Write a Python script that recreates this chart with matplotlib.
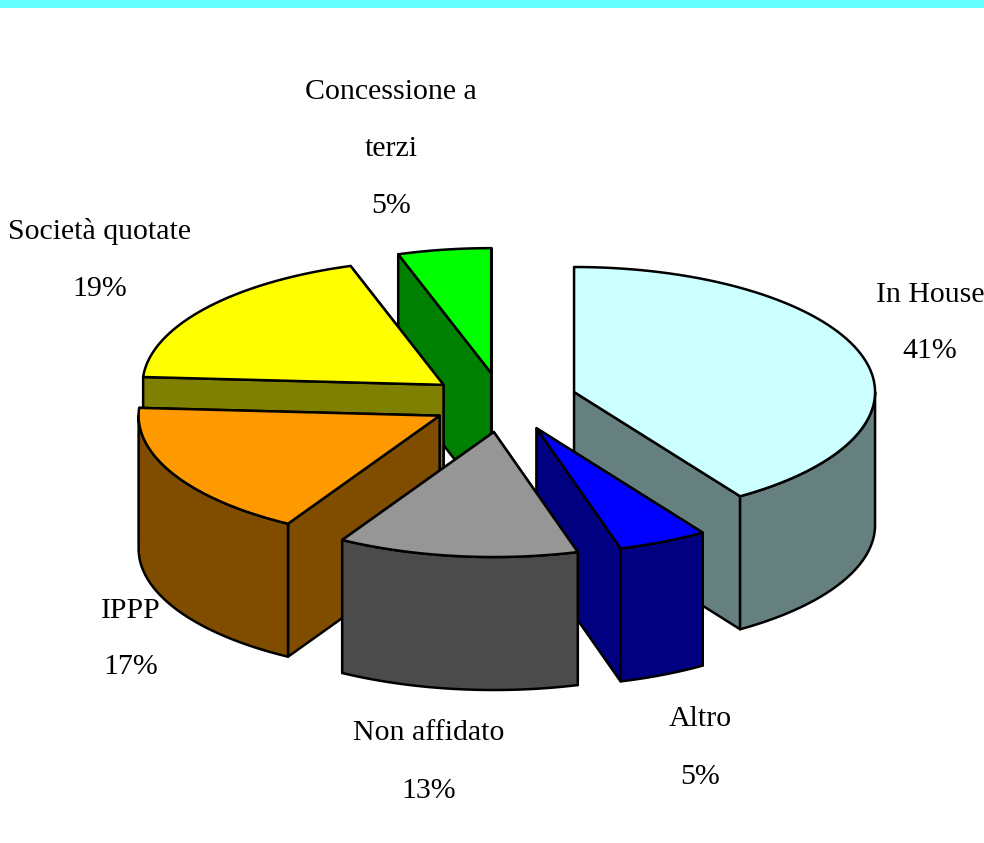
import numpy as np
import matplotlib
matplotlib.use("Agg")
import matplotlib.pyplot as plt
from matplotlib.patches import Polygon, Rectangle

labels = ["In House", "Altro", "Non affidato", "IPPP", "Società quotate", "Concessione a\nterzi"]
percent_labels = [41, 5, 13, 17, 19, 5]
slice_shares = [40.7, 4.8, 12.9, 17.6, 19.0, 5.0]
top_colors = ["#ccffff", "#0000ff", "#969696", "#ff9900", "#ffff00", "#00ff00"]
side_colors = ["#668080", "#000080", "#4b4b4b", "#804d00", "#808000", "#008000"]
label_xy = [(930, 323), (700, 748), (429, 762), (131, 639), (100, 260), (391, 149)]
nudge_x = [-2, 1, -1, 2, -1, -1]
nudge_y = [-2, -3, -2, -2, 1, 1]

CX, CY = 504, 403
RX, RY = 301, 125
DEPTH = 133
EXPLODE = 0.25

fig = plt.figure(figsize=(9.84, 8.43), dpi=100)
ax = fig.add_axes([0, 0, 1, 1])
ax.set_xlim(0, 984)
ax.set_ylim(843, 0)
ax.axis("off")
ax.add_patch(Rectangle((0, 0), 984, 8, color="#66ffff", lw=0))


def rim(ox, oy, a0, a1, n=80):
    t = np.radians(np.linspace(a0, a1, n))
    return np.column_stack([ox + RX * np.sin(t), oy - RY * np.cos(t)])


def face(points, color, z):
    ax.add_patch(Polygon(points, closed=True, facecolor=color, edgecolor="black",
                         lw=1.8, joinstyle="round", zorder=z))


total = sum(slice_shares)
edges = np.concatenate([[0], np.cumsum(slice_shares)]) * 360.0 / total
order = [5, 4, 3, 0, 1, 2]
for z, i in enumerate(order):
    a0, a1 = edges[i], edges[i + 1]
    mid = np.radians((a0 + a1) / 2)
    ox = CX + EXPLODE * RX * np.sin(mid) + nudge_x[i]
    oy = CY - EXPLODE * RY * np.cos(mid) + nudge_y[i]
    base = 10 * (z + 1)
    ends = sorted([a0, a1], key=lambda a: -np.cos(np.radians(a)))
    for k, a in enumerate(ends):
        p = rim(ox, oy, a, a, 1)[0]
        face([(ox, oy), p, (p[0], p[1] + DEPTH), (ox, oy + DEPTH)], side_colors[i], base + k)
    lo, hi = max(a0, 90), min(a1, 270)
    if lo < hi:
        r = rim(ox, oy, lo, hi)
        face(np.vstack([r, (r + [0, DEPTH])[::-1]]), side_colors[i], base + 2)
    face(np.vstack([[(ox, oy)], rim(ox, oy, a0, a1)]), top_colors[i], base + 3)

for name, v, (x, y) in zip(labels, percent_labels, label_xy):
    ax.text(x, y, f"{name}\n{v}%", ha="center", va="center", family="Liberation Serif",
            fontsize=21.5, linespacing=2.55, color="black", zorder=200)

fig.savefig("out.png", dpi=100)
